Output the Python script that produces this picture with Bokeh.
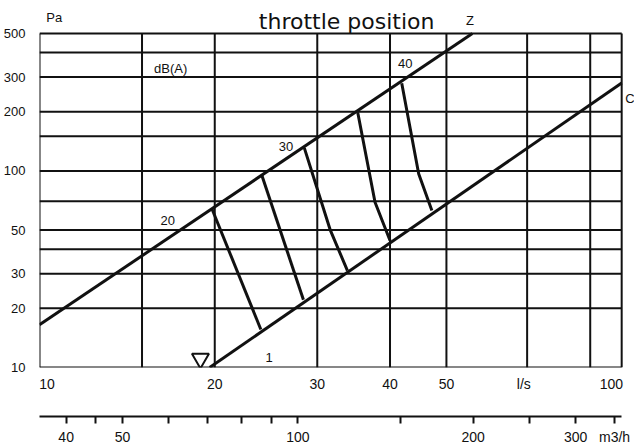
from bokeh.plotting import figure
from bokeh.models import FixedTicker, LogAxis, LogScale, Range1d
from bokeh.core.properties import value
from bokeh.embed import file_html
from bokeh.resources import INLINE

# ---------------- data ----------------
# characteristic lines: flow (l/s) vs pressure (Pa)
z_flow = [10.0, 55.4]
z_pressure = [16.5, 500.0]
c_flow = [19.6, 100.0]
c_pressure = [10.0, 280.0]

# constant sound-level curves between Z and C (throttle positions)
curve_flow = [
    [19.8, 24.0],
    [24.1, 28.4],
    [28.5, 31.6, 33.8],
    [35.2, 37.7, 40.0],
    [41.9, 44.8, 47.2],
]
curve_pressure = [
    [63.6, 15.6],
    [94.8, 22.1],
    [131.0, 49.8, 31.1],
    [199.0, 69.3, 44.3],
    [279.0, 96.7, 62.9],
]

# marker (design point symbol)
marker_flow = [18.9]
marker_pressure = [11.1]

# chart area and grid
flow_min, flow_max = 10, 100
pressure_min, pressure_max = 10, 500
x_lines = [10, 15, 20, 30, 40, 50, 68.8, 88.3, 100]
y_lines = [10, 20, 30, 40, 50, 70, 100, 150, 200, 300, 400, 500]

# tick labels
y_ticks = [10, 20, 30, 50, 100, 200, 300, 500]
x_label_ticks = [10.3, 20, 30, 40, 50, 67.9, 96.0]
x_label_texts = ["10", "20", "30", "40", "50", "l/s", "100"]
m3h_ticks = [40, 45, 50, 60, 70, 80, 90, 100, 150, 200, 250, 300, 350]
m3h_texts = ["40", "", "50", "", "", "", "", "100", "", "200", "", "300", "m3/h"]

# text labels (text, flow, pressure)
inner_texts = ["20", "30", "40", "1", "dB(A)", "Pa", "Z"]
inner_flow = [16.6, 26.5, 42.5, 24.8, 16.8, 10.6, 54.9]
inner_pressure = [56.2, 133.0, 350.0, 11.2, 332.0, 600.0, 579.0]
c_text = ["C"]
c_flow_pos = [103.3]
c_pressure_pos = [233.0]
title_text = ["throttle position"]
title_flow = [33.7]
title_pressure = [575.0]

INK = "#111111"
FONT = "Liberation Sans"
X_RIGHT = 105.2  # room right of the chart for the "C" label
Y_TOP = 736      # room above the chart for the title row

p = figure(width=634, height=447, x_axis_type="log", y_axis_type="log",
           x_range=Range1d(flow_min, X_RIGHT), y_range=Range1d(pressure_min, Y_TOP),
           output_backend="svg", toolbar_location=None,
           min_border=0, min_border_left=29, min_border_right=0, min_border_top=0,
           min_border_bottom=0)
p.background_fill_color = "white"
p.border_fill_color = "white"
p.outline_line_color = None
p.xgrid.visible = False
p.ygrid.visible = False

# grid and chart border
p.segment(x0=x_lines, y0=[pressure_min] * len(x_lines), x1=x_lines,
          y1=[pressure_max] * len(x_lines), line_color=INK, line_width=2)
p.segment(x0=[flow_min] * len(y_lines), y0=y_lines, x1=[flow_max] * len(y_lines),
          y1=y_lines, line_color=INK, line_width=2)

# y axis
ya = p.yaxis[0]
ya.ticker = FixedTicker(ticks=y_ticks)
ya.major_label_overrides = {t: str(t) for t in y_ticks}
ya.axis_line_color = None
ya.major_tick_line_color = None
ya.minor_tick_line_color = None
ya.major_label_standoff = 8
ya.major_label_text_font = FONT
ya.major_label_text_font_size = "13px"
ya.major_label_text_color = INK

# x axis (l/s)
xa = p.xaxis[0]
xa.ticker = FixedTicker(ticks=x_label_ticks)
xa.major_label_overrides = dict(zip(x_label_ticks, x_label_texts))
xa.axis_line_color = None
xa.major_tick_line_color = None
xa.minor_tick_line_color = None
xa.major_label_standoff = 2
xa.major_label_text_font = FONT
xa.major_label_text_font_size = "14px"
xa.major_label_text_color = INK
xa.axis_label = "\u00a0"
xa.axis_label_standoff = 5
xa.axis_label_text_font_size = "12px"
xa.axis_label_text_alpha = 0

# second axis (m3/h = 3.6 * l/s)
p.extra_x_ranges = {"m3h": Range1d(flow_min * 3.6, X_RIGHT * 3.6)}
p.extra_x_scales = {"m3h": LogScale()}
ma = LogAxis(x_range_name="m3h", ticker=FixedTicker(ticks=m3h_ticks),
             major_label_overrides=dict(zip(m3h_ticks, m3h_texts)),
             bounds=(flow_min * 3.6, flow_max * 3.6))
ma.axis_line_color = INK
ma.axis_line_width = 2
ma.major_tick_line_color = INK
ma.major_tick_line_width = 2
ma.major_tick_in = 0
ma.major_tick_out = 7
ma.minor_tick_line_color = None
ma.major_label_standoff = 5
ma.major_label_text_font = FONT
ma.major_label_text_font_size = "14px"
ma.major_label_text_color = INK
p.add_layout(ma, "below")

# characteristic lines
p.line(z_flow, z_pressure, line_color=INK, line_width=3)
p.line(c_flow, c_pressure, line_color=INK, line_width=3)
p.multi_line(curve_flow, curve_pressure, line_color=INK, line_width=3)

# design-point symbol
p.scatter(marker_flow, marker_pressure, marker="inverted_triangle", size=17,
          fill_color=None, line_color=INK, line_width=2)

# texts
p.text(inner_flow, inner_pressure, text=inner_texts, text_font=value(FONT),
       text_font_size="13px", text_align="center", text_baseline="middle",
       text_color=INK)
p.text(c_flow_pos, c_pressure_pos, text=c_text, text_font=value(FONT),
       text_font_size="13px", text_align="center", text_baseline="middle",
       text_color=INK)
p.text(title_flow, title_pressure, text=title_text, text_font=value("DejaVu Sans"),
       text_font_size="22px", text_align="center", text_baseline="alphabetic",
       text_color=INK)

open("out.html", "w").write(file_html(p, INLINE))
